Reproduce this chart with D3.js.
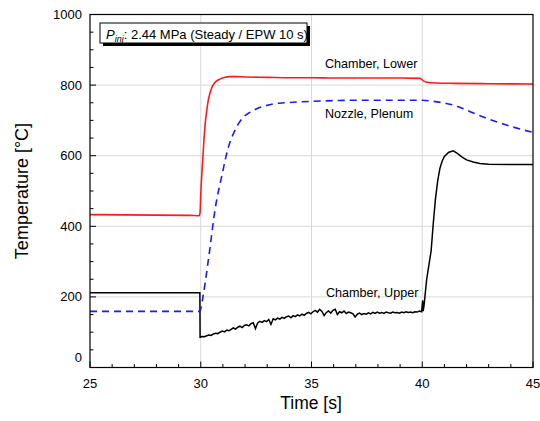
<!DOCTYPE html>
<html><head><meta charset="utf-8">
<script src="https://cdn.jsdelivr.net/npm/d3@7"></script>
<style>body{margin:0;background:#fff}svg{display:block;font-family:"Liberation Sans",Arial,sans-serif}</style>
</head><body>
<svg id="c" width="540" height="421"></svg>
<script>
const xTicks=[25,30,35,40,45];
const yTicks=[0,200,400,600,800,1000];
const seriesNames=["Chamber, Lower","Nozzle, Plenum","Chamber, Upper"];
const lowerT=[25,29.5,29.93,29.97,30.0,30.05,30.09,30.15,30.2,30.27,30.35,30.5,30.65,30.87,31.1,31.3,31.6,32,33,34,35,36,37,38,39,39.9,40.05,40.2,40.6,41.5,43,45];
const lowerV=[433,431,430,440,490,550,590,650,690,728,760,793,808,817,822,824,824,823,822,821,821,820,820,820,820,819,812,808,806,805,804,803];
const plenumT=[25,29.95,30.0,30.1,30.2,30.3,30.42,30.53,30.64,30.75,30.87,31.0,31.1,31.25,31.47,31.7,31.92,32.2,32.53,32.9,33.28,33.8,34.33,35,36,37,38,39,40,40.5,41,41.5,42,42.5,43,43.5,44,44.5,45];
const plenumV=[159,159,166,200,240,285,340,395,445,485,520,557,587,625,662,690,709,722,733,741,747,750,752,754,756,757,757,757,757,754,749,742,729,716,704,693,683,674,666];
const upperT0=[25,29.96];
const upperV0=[212,212];
const upperMidStart=29.97, upperMidStep=0.1;
const upperMidV=[86,88,87,90,92,91,95,97,96,100,103,101,106,104,108,112,109,114,117,113,119,121,118,124,127,110,126,131,128,133,130,136,122,138,135,140,137,142,139,144,146,141,147,144,149,146,151,148,153,156,152,158,162,157,165,159,147,156,160,154,162,165,150,158,155,160,153,157,155,152,143,151,154,150,153,151,155,152,156,153,157,154,156,153,157,155,154,157,155,156,154,157,155,158,156,157,155,158,157,160,158];
const upperT1=[40.02,40.04,40.08,40.12,40.2,40.3,40.4,40.5,40.6,40.7,40.8,40.9,41.0,41.2,41.4,41.6,41.8,42.0,42.3,42.6,43,44,45];
const upperV1=[190,160,175,200,250,290,330,410,480,530,565,585,598,610,614,606,596,588,582,578,576,575,575];

const svg=d3.select("#c");
const x=d3.scaleLinear().domain([25,45]).range([90,533]);
const y=d3.scaleLinear().domain([0,1000]).range([367.5,14.5]);

// grid
svg.append("g").selectAll("line").data(xTicks.filter(t=>t>25&&t<45)).join("line")
 .attr("x1",d=>x(d)).attr("x2",d=>x(d)).attr("y1",y(0)).attr("y2",y(1000)).attr("stroke","#d9d9d9").attr("stroke-width",1);
svg.append("g").selectAll("line").data(yTicks.filter(t=>t>0&&t<1000)).join("line")
 .attr("y1",d=>y(d)).attr("y2",d=>y(d)).attr("x1",x(25)).attr("x2",x(45)).attr("stroke","#d9d9d9").attr("stroke-width",1);

const clip=svg.append("clipPath").attr("id","pc").append("rect").attr("x",x(25)).attr("y",y(1000)).attr("width",x(45)-x(25)).attr("height",y(0)-y(1000));
const line=d3.line().x(d=>x(d[0])).y(d=>y(d[1]));
const g=svg.append("g").attr("clip-path","url(#pc)");
const lowerD=lowerT.map((t,i)=>[t,lowerV[i]]);
const plenumD=plenumT.map((t,i)=>[t,plenumV[i]]);
const upperD=upperT0.map((t,i)=>[t,upperV0[i]])
 .concat(upperMidV.map((v,i)=>[upperMidStart+i*upperMidStep,v]))
 .concat(upperT1.map((t,i)=>[t,upperV1[i]]));
g.append("path").datum(upperD).attr("d",line).attr("fill","none").attr("stroke","#000").attr("stroke-width",1.5);
g.append("path").datum(plenumD).attr("d",d3.line().curve(d3.curveMonotoneX).x(d=>x(d[0])).y(d=>y(d[1]))).attr("fill","none").attr("stroke","#1a1aff").attr("stroke-width",1.6).attr("stroke-dasharray","7,5");
g.append("path").datum(lowerD).attr("d",d3.line().curve(d3.curveMonotoneX).x(d=>x(d[0])).y(d=>y(d[1]))).attr("fill","none").attr("stroke","#ff1a1a").attr("stroke-width",1.6);

// frame
svg.append("rect").attr("x",x(25)).attr("y",y(1000)).attr("width",x(45)-x(25)).attr("height",y(0)-y(1000)).attr("fill","none").attr("stroke","#000").attr("stroke-width",1.2);

// axes (inside ticks)
const xMinor=d3.range(25,45.01,1);
const yMinor=d3.range(0,1000.1,50);
svg.append("g").selectAll("line").data(xMinor).join("line")
 .attr("x1",d=>x(d)).attr("x2",d=>x(d)).attr("y1",y(0)).attr("y2",d=>y(0)-(d%5===0?6:3.5)).attr("stroke","#000");
svg.append("g").selectAll("line").data(yMinor).join("line")
 .attr("y1",d=>y(d)).attr("y2",d=>y(d)).attr("x1",x(25)).attr("x2",d=>x(25)+(d%200===0?6:3.5)).attr("stroke","#000");
svg.append("g").selectAll("text").data(xTicks).join("text")
 .attr("x",d=>x(d)).attr("y",388).attr("text-anchor","middle").attr("font-size",13).text(d=>d);
svg.append("g").selectAll("text").data(yTicks).join("text")
 .attr("x",82).attr("y",d=>(d===0?y(d)-10:y(d))+4.5).attr("text-anchor","end").attr("font-size",13).text(d=>d);

svg.append("text").attr("x",311).attr("y",409).attr("text-anchor","middle").attr("font-size",17.5).text("Time [s]");
svg.append("text").attr("transform","translate(28,191) rotate(-90)").attr("text-anchor","middle").attr("font-size",18).text("Temperature [°C]");

// legend box with shadow
svg.append("rect").attr("x",103).attr("y",26).attr("width",207).attr("height",20).attr("fill","#000");
svg.append("rect").attr("x",100).attr("y",23).attr("width",207).attr("height",20).attr("fill","#fff").attr("stroke","#000").attr("stroke-width",1);
const lt=svg.append("text").attr("x",106).attr("y",38.5).attr("font-size",13);
lt.append("tspan").attr("font-style","italic").text("P");
lt.append("tspan").attr("font-style","italic").attr("font-size",9).attr("dy",3.5).text("inj");
lt.append("tspan").attr("dy",-3.5).text(": 2.44 MPa (Steady / EPW 10 s)");

// labels
const labelPos=[[325,68],[325,118],[326,297]];
svg.append("g").selectAll("text").data(seriesNames).join("text")
 .attr("x",(d,i)=>labelPos[i][0]).attr("y",(d,i)=>labelPos[i][1]).attr("font-size",12.6).text(d=>d);
</script>
</body></html>
